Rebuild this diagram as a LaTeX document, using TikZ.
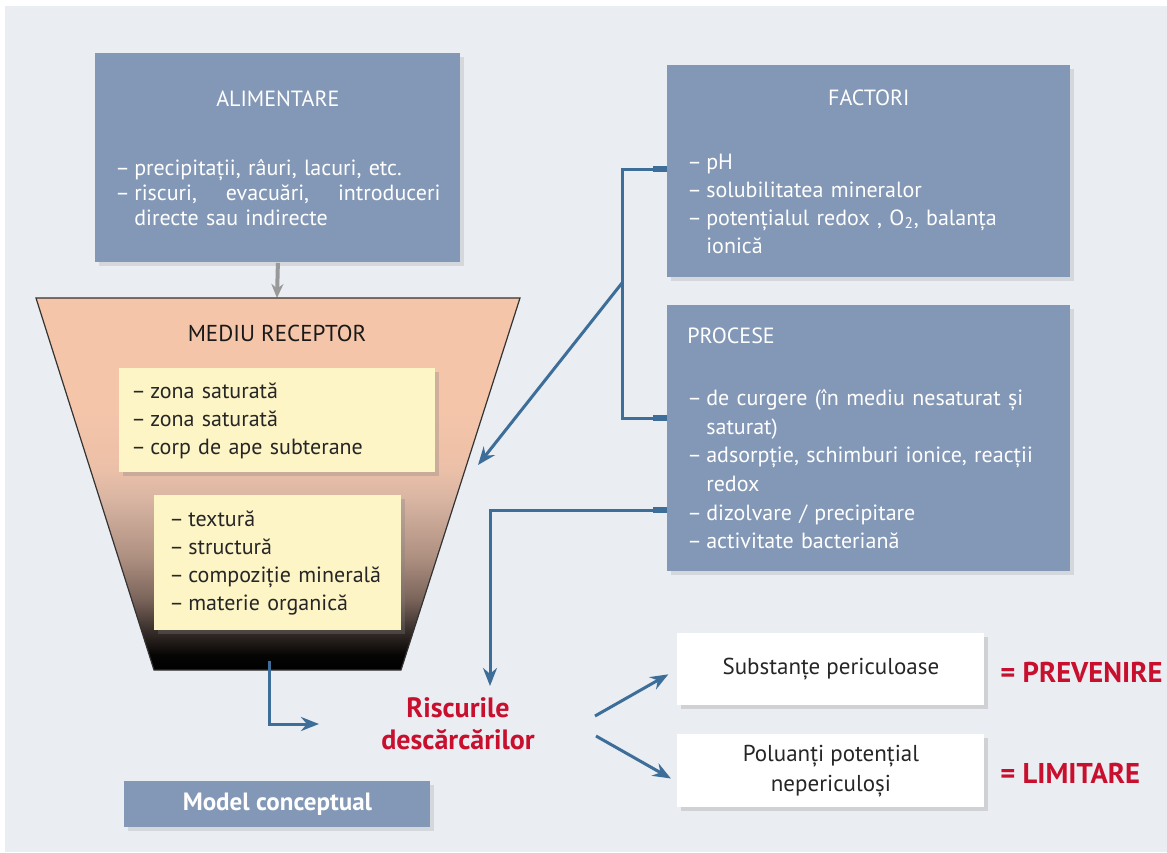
\documentclass[tikz,border=0pt]{standalone}
\usepackage{fontspec}
\setmainfont{PT Sans}
\usetikzlibrary{arrows.meta,shadows,calc}
\definecolor{bggray}{HTML}{EAEDF2}
\definecolor{boxblue}{HTML}{8398B6}
\definecolor{linkblue}{HTML}{3C6E99}
\definecolor{riskred}{HTML}{C8102E}
\definecolor{noteyellow}{HTML}{FDF5C6}
\definecolor{peach}{HTML}{F4C5A9}
\definecolor{fpink}{HTML}{ECC0A8}
\definecolor{ftan}{HTML}{D9B5A3}
\definecolor{fbrown}{HTML}{AD8F80}
\definecolor{fgray}{HTML}{7A645A}
\definecolor{fdark}{HTML}{3A302C}
\pgfdeclareverticalshading{funnelshade}{100bp}{color(0bp)=(black); color(25bp)=(black); color(27bp)=(black!90!fdark); color(30.5bp)=(fdark); color(34.5bp)=(fgray); color(40bp)=(fbrown); color(48bp)=(ftan); color(52bp)=(fpink); color(60bp)=(peach); color(100bp)=(peach)}
\newcommand{\dsh}{–\hspace{0.2em}}
\newcommand{\ind}{\hphantom{–\hspace{0.2em}}}
\begin{document}
\begin{tikzpicture}[x=0.5pt,y=-0.5pt,
  bluebox/.style={fill=boxblue, text=white, anchor=north west, inner xsep=10pt, inner ysep=0pt, align=left,
    font=\fontsize{11}{14}\selectfont, drop shadow={shadow xshift=2pt,shadow yshift=-2pt,opacity=0.2}},
  notebox/.style={fill=noteyellow, text=black!85, anchor=north west, inner xsep=6pt, inner ysep=0pt, align=left,
    font=\fontsize{11}{14}\selectfont, drop shadow={shadow xshift=2pt,shadow yshift=-2pt,opacity=0.3}},
  whitebox/.style={fill=white, text=black!85, anchor=north west, inner sep=0pt, align=center,
    font=\fontsize{11.5}{15}\selectfont, drop shadow={shadow xshift=2pt,shadow yshift=-2pt,opacity=0.25}},
  redlbl/.style={text=riskred, font=\fontsize{14.3}{16}\bfseries},
  link/.style={draw=linkblue, line width=1.5pt},
  stub/.style={draw=linkblue, line width=2.6pt},
  tip/.style={-{Stealth[length=9pt,width=7pt]}},
  grayarrow/.style={draw=black!40, line width=2pt, -{Stealth[length=7pt,width=6pt]}}]

\fill[white] (0,0) rectangle (1167,852);
\fill[bggray] (5,6) rectangle (1167,852);

\coordinate (ftop) at (277,298);
\coordinate (fbot) at (269,661);
\coordinate (fin) at (478,465);
\coordinate (jn) at (622,283);
\coordinate (rin) at (490,686);
\coordinate (rleft) at (319,724);
\coordinate (rs1) at (595,716);
\coordinate (rs2) at (596,736);

\node[bluebox, text width=162.5pt, minimum height=104.5pt, font=\fontsize{11}{12.5}\selectfont] (alim) at (95,53)
  {{\centering ALIMENTARE\par}\vspace{22pt}
   \dsh precipitații, râuri, lacuri, etc.\\
   \dsh riscuri,\hfill evacuări,\hfill introduceri\\
   \ind directe sau indirecte};

\draw[grayarrow] (alim.south) -- (ftop);

\shade[shading=funnelshade, draw=black!80, line width=0.6pt] (36,298) -- (520,298) -- (401,670) -- (154,670) -- cycle;
\node[font=\fontsize{11.5}{14}\selectfont, text=black!90] (medi) at (277,333) {MEDIU RECEPTOR};

\node[notebox, text width=146pt, minimum height=52pt] (sat) at (119,368)
  {\dsh zona saturată\\
   \dsh zona saturată\\
   \dsh corp de ape subterane};
\node[notebox, text width=108.5pt, inner xsep=7.5pt, minimum height=67.5pt] (sol) at (154,495)
  {\dsh textură\\
   \dsh structură\\
   \dsh compoziție minerală\\
   \dsh materie organică};

\node[bluebox, text width=181.5pt, inner xsep=10pt, minimum height=106pt] (fac) at (667,65)
  {{\centering FACTORI\par}\vspace{18pt}
   \dsh pH\\
   \dsh solubilitatea mineralor\\
   \dsh potențialul redox , O\textsubscript{2}, balanța\\
   \ind ionică};

\node[bluebox, text width=181.5pt, inner xsep=10pt, minimum height=133pt, font=\fontsize{11}{14.3}\selectfont] (proc) at (667,305)
  {PROCESE\\[16.7pt]
   \dsh de curgere (în mediu nesaturat și\\
   \ind saturat)\\
   \dsh adsorpție, schimburi ionice, reacții\\
   \ind redox\\
   \dsh dizolvare / precipitare\\
   \dsh activitate bacteriană};

\node[redlbl, align=center, font=\fontsize{14}{16}\bfseries] (risc) at (458,724) {Riscurile\\descărcărilor};

\node[whitebox, minimum width=153.5pt, minimum height=36pt] (sub) at (677,633) {Substanțe periculoase};
\node[whitebox, minimum width=153.5pt, minimum height=36.5pt] (pol) at (677,734) {Poluanți potențial\\nepericuloși};

\node[redlbl, anchor=west, inner sep=0pt] (prev) at (1000,672) {= PREVENIRE};
\node[redlbl, anchor=west, inner sep=0pt] (lim) at (1000,773) {= LIMITARE};

\node[fill=boxblue, text=white, anchor=north west, minimum width=153pt, minimum height=23pt, inner sep=0pt,
  font=\fontsize{12.5}{14}\bfseries, drop shadow={shadow xshift=2pt,shadow yshift=-2pt,opacity=0.2}] (model) at (124,781) {Model conceptual};

\draw[link] (fac.west |- 0,169) -| (jn) |- (proc.west |- 0,418);
\draw[stub] (fac.west |- 0,169) -- ++(-14,0);
\draw[stub] (proc.west |- 0,418) -- ++(-14,0);
\draw[link, tip] (jn) -- (fin);
\draw[link, tip] (proc.west |- 0,510) -| (rin);
\draw[stub] (proc.west |- 0,510) -- ++(-14,0);
\draw[link, tip] (fbot) |- (rleft);
\draw[link, tip, shorten >=5pt] (rs1) -- (sub.west);
\draw[link, tip, shorten >=3.5pt] (rs2) -- ($(pol.west)!0.3!(pol.south west)$);

\end{tikzpicture}
\end{document}
